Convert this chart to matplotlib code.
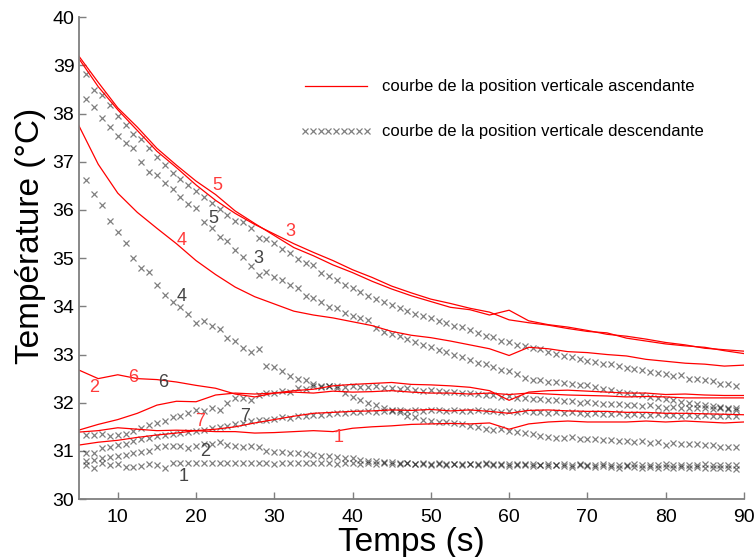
import numpy as np
import matplotlib
matplotlib.use('Agg')
import matplotlib.pyplot as plt

plt.rcParams['font.family'] = ['Liberation Sans', 'DejaVu Sans']

# ascending position (red lines), sampled every 2.5 s
t_red = np.arange(5, 90.1, 2.5)
asc = {
    '5': [39.2, 38.65, 38.12, 37.72, 37.28, 36.93, 36.6, 36.32, 35.98, 35.72, 35.47, 35.22,
          35.05, 34.86, 34.7, 34.52, 34.36, 34.22, 34.1, 33.98, 33.93, 33.82, 33.92, 33.7,
          33.62, 33.57, 33.5, 33.42, 33.38, 33.32, 33.25, 33.2, 33.13, 33.1, 33.07],
    '3': [39.15, 38.56, 38.08, 37.65, 37.22, 36.88, 36.52, 36.2, 35.93, 35.7, 35.5, 35.3,
          35.12, 34.95, 34.76, 34.6, 34.42, 34.28, 34.15, 34.06, 33.96, 33.88, 33.72, 33.66,
          33.61, 33.54, 33.48, 33.45, 33.34, 33.28, 33.22, 33.18, 33.15, 33.08, 33.02],
    '4': [37.76, 36.95, 36.35, 35.95, 35.62, 35.3, 34.95, 34.66, 34.4, 34.2, 34.05, 33.9,
          33.82, 33.76, 33.68, 33.6, 33.48, 33.4, 33.35, 33.28, 33.2, 33.12, 32.98, 33.15,
          33.12, 33.06, 33.04, 33.0, 32.97, 32.9, 32.86, 32.82, 32.8, 32.76, 32.78],
    '2': [32.68, 32.5, 32.58, 32.5, 32.48, 32.43, 32.36, 32.3, 32.18, 32.12, 32.2, 32.25,
          32.28, 32.35, 32.38, 32.4, 32.42, 32.38, 32.37, 32.35, 32.32, 32.25, 32.05, 32.22,
          32.25, 32.26, 32.24, 32.22, 32.2, 32.2, 32.17, 32.18, 32.16, 32.15, 32.15],
    '6': [31.43, 31.55, 31.65, 31.78, 31.95, 32.03, 32.02, 32.16, 32.2, 32.18, 32.2, 32.22,
          32.2, 32.24, 32.22, 32.23, 32.25, 32.22, 32.2, 32.2, 32.18, 32.2, 32.17, 32.2,
          32.18, 32.16, 32.15, 32.14, 32.12, 32.13, 32.12, 32.1, 32.1, 32.1, 32.1],
    '7': [31.12, 31.18, 31.22, 31.28, 31.33, 31.37, 31.42, 31.45, 31.5, 31.58, 31.65, 31.72,
          31.78, 31.8, 31.82, 31.83, 31.85, 31.84, 31.86, 31.83, 31.85, 31.82, 31.78, 31.84,
          31.85, 31.83, 31.82, 31.82, 31.8, 31.8, 31.78, 31.78, 31.77, 31.76, 31.75],
    '1': [31.39, 31.42, 31.48, 31.45, 31.42, 31.43, 31.42, 31.4, 31.4, 31.37, 31.38, 31.4,
          31.42, 31.4, 31.47, 31.5, 31.52, 31.55, 31.56, 31.57, 31.56, 31.58, 31.45, 31.56,
          31.6, 31.62, 31.6, 31.6, 31.6, 31.62, 31.6, 31.62, 31.6, 31.58, 31.6],
}

# descending position (x markers), one reading per second from 6 to 89 s
t_desc = np.arange(6, 90)
desc = {
    '3': [38.82, 38.5, 38.38, 38.17, 37.95, 37.76, 37.57, 37.47, 37.28, 37.1,
          36.93, 36.76, 36.64, 36.51, 36.39, 36.27, 36.14, 36.02, 35.89, 35.77,
          35.75, 35.62, 35.41, 35.39, 35.31, 35.2, 35.1, 34.98, 34.9, 34.85,
          34.7, 34.62, 34.55, 34.45, 34.38, 34.3, 34.22, 34.15, 34.08, 34.02,
          33.97, 33.9, 33.85, 33.8, 33.75, 33.7, 33.65, 33.6, 33.57, 33.5,
          33.44, 33.38, 33.36, 33.28, 33.25, 33.2, 33.17, 33.14, 33.12, 33.06,
          33.02, 32.97, 32.95, 32.9, 32.87, 32.84, 32.8, 32.8, 32.77, 32.72,
          32.7, 32.67, 32.64, 32.62, 32.6, 32.56, 32.57, 32.5, 32.5, 32.47,
          32.45, 32.38, 32.38, 32.35],
    '5': [38.3, 38.13, 37.9, 37.72, 37.53, 37.38, 37.28, 36.99, 36.78, 36.72,
          36.55, 36.43, 36.26, 36.12, 36.04, 35.75, 35.62, 35.44, 35.36, 35.17,
          35.02, 34.83, 34.65, 34.71, 34.61, 34.55, 34.44, 34.38, 34.21, 34.17,
          34.09, 33.98, 33.96, 33.86, 33.8, 33.76, 33.71, 33.55, 33.47, 33.42,
          33.38, 33.33, 33.26, 33.2, 33.16, 33.1, 33.05, 33.0, 32.95, 32.88,
          32.82, 32.8, 32.74, 32.68, 32.65, 32.6, 32.52, 32.47, 32.47, 32.44,
          32.43, 32.4, 32.38, 32.36, 32.36, 32.33, 32.28, 32.26, 32.22, 32.2,
          32.18, 32.15, 32.12, 32.1, 32.07, 32.05, 32.02, 32.0, 31.97, 31.95,
          31.93, 31.92, 31.9, 31.88],
    '4': [36.62, 36.33, 36.1, 35.77, 35.54, 35.31, 35.0, 34.79, 34.71, 34.44,
          34.23, 34.09, 33.98, 33.84, 33.65, 33.7, 33.59, 33.52, 33.34, 33.28,
          33.13, 33.05, 33.12, 32.76, 32.74, 32.66, 32.55, 32.5, 32.47, 32.38,
          32.35, 32.35, 32.3, 32.2, 32.12, 32.05, 32.0, 31.95, 31.9, 31.85,
          31.8, 31.72, 31.7, 31.65, 31.62, 31.6, 31.6, 31.57, 31.55, 31.52,
          31.5, 31.45, 31.43, 31.45, 31.42, 31.4, 31.37, 31.35, 31.3, 31.28,
          31.27, 31.27, 31.28, 31.25, 31.24, 31.25, 31.22, 31.22, 31.2, 31.2,
          31.18, 31.2, 31.17, 31.18, 31.13, 31.17, 31.15, 31.14, 31.14, 31.12,
          31.12, 31.09, 31.08, 31.09],
    '6': [31.33, 31.33, 31.35, 31.3, 31.33, 31.36, 31.42, 31.47, 31.54, 31.58,
          31.62, 31.7, 31.72, 31.78, 31.85, 31.82, 31.89, 31.85, 32.0, 32.1,
          32.1, 32.05, 32.15, 32.2, 32.2, 32.25, 32.22, 32.3, 32.28, 32.35,
          32.33, 32.35, 32.34, 32.33, 32.35, 32.33, 32.32, 32.34, 32.3, 32.3,
          32.28, 32.3, 32.27, 32.25, 32.26, 32.24, 32.22, 32.22, 32.2, 32.2,
          32.18, 32.15, 32.17, 32.12, 32.13, 32.1, 32.1, 32.08, 32.07, 32.05,
          32.05, 32.03, 32.03, 32.0, 32.02, 32.0, 31.98, 31.97, 31.98, 31.95,
          31.95, 31.93, 31.95, 31.92, 31.9, 31.92, 31.9, 31.88, 31.9, 31.88,
          31.87, 31.88, 31.86, 31.85],
    '7': [30.95, 30.95, 31.05, 31.08, 31.12, 31.15, 31.2, 31.25, 31.27, 31.3,
          31.33, 31.35, 31.38, 31.4, 31.42, 31.44, 31.48, 31.5, 31.52, 31.55,
          31.57, 31.62, 31.65, 31.65, 31.67, 31.7, 31.68, 31.72, 31.72, 31.75,
          31.74, 31.77, 31.78, 31.78, 31.8, 31.8, 31.82, 31.8, 31.83, 31.82,
          31.84, 31.82, 31.85, 31.83, 31.85, 31.84, 31.82, 31.85, 31.83, 31.82,
          31.84, 31.82, 31.83, 31.8, 31.82, 31.8, 31.82, 31.8, 31.8, 31.79,
          31.8, 31.78, 31.8, 31.78, 31.77, 31.78, 31.77, 31.76, 31.78, 31.75,
          31.76, 31.75, 31.74, 31.76, 31.74, 31.75, 31.73, 31.74, 31.72, 31.74,
          31.72, 31.73, 31.72, 31.72],
    '2': [30.8, 30.82, 30.85, 30.88, 30.9, 30.92, 30.95, 30.97, 31.0, 31.08,
          31.1, 31.1, 31.1, 31.06, 31.1, 31.15, 31.15, 31.18, 31.12, 31.1,
          31.08, 31.1, 31.08, 31.0, 30.97, 30.98, 30.96, 30.95, 30.93, 30.92,
          30.9, 30.9, 30.88, 30.85, 30.85, 30.82, 30.8, 30.78, 30.77, 30.76,
          30.75, 30.74, 30.72, 30.74, 30.7, 30.72, 30.7, 30.73, 30.7, 30.72,
          30.7, 30.73, 30.7, 30.72, 30.68, 30.7, 30.72, 30.68, 30.7, 30.68,
          30.7, 30.68, 30.66, 30.7, 30.68, 30.66, 30.68, 30.66, 30.65, 30.68,
          30.66, 30.64, 30.67, 30.64, 30.66, 30.64, 30.67, 30.64, 30.66, 30.64,
          30.65, 30.64, 30.65, 30.63],
    '1': [30.7, 30.64, 30.74, 30.7, 30.72, 30.66, 30.67, 30.68, 30.72, 30.7,
          30.64, 30.75, 30.75, 30.75, 30.75, 30.75, 30.74, 30.75, 30.75, 30.74,
          30.75, 30.74, 30.75, 30.75, 30.73, 30.75, 30.74, 30.75, 30.74, 30.75,
          30.74, 30.75, 30.73, 30.74, 30.74, 30.73, 30.74, 30.72, 30.74, 30.73,
          30.72, 30.74, 30.72, 30.73, 30.72, 30.74, 30.72, 30.73, 30.72, 30.73,
          30.72, 30.74, 30.72, 30.71, 30.72, 30.73, 30.7, 30.72, 30.71, 30.72,
          30.71, 30.72, 30.7, 30.72, 30.71, 30.7, 30.72, 30.7, 30.71, 30.7,
          30.72, 30.7, 30.71, 30.7, 30.72, 30.7, 30.7, 30.71, 30.7, 30.72,
          30.7, 30.71, 30.7, 30.7],
}

# curve number labels (time, temperature)
asc_labels = {'5': (22.7, 36.5), '3': (32.0, 35.55), '4': (18.1, 35.37), '2': (7.0, 32.32),
              '6': (12.0, 32.53), '7': (20.5, 31.6), '1': (38.2, 31.27)}
desc_labels = {'5': (22.2, 35.83), '3': (28.0, 35.0), '4': (18.1, 34.21), '6': (15.8, 32.41),
               '7': (26.3, 31.72), '2': (21.2, 30.98), '1': (18.4, 30.46)}

fig = plt.figure(figsize=(7.56, 5.57), dpi=100)
ax = fig.add_axes([0.104, 0.104, 0.880, 0.865])

first = True
for k, v in desc.items():
    ax.plot(t_desc, v, ls='none', marker='x', ms=4.5, mew=0.9, color='k', alpha=0.5,
            label='courbe de la position verticale descendante' if first else None)
    first = False

first = True
for k, v in asc.items():
    ax.plot(t_red, v, color='red', lw=0.9,
            label='courbe de la position verticale ascendante' if first else None)
    first = False

for k, (x, y) in asc_labels.items():
    ax.text(x, y, k, color='#ff3b3b', fontsize=13, ha='center', va='center')
for k, (x, y) in desc_labels.items():
    ax.text(x, y, k, color='#444444', fontsize=13, ha='center', va='center')

h, l = ax.get_legend_handles_labels()
ax.legend(h[::-1], l[::-1], loc='upper left', bbox_to_anchor=(0.333, 0.871),
          frameon=False, fontsize=12, numpoints=9, handlelength=4.3,
          handletextpad=0.6, labelspacing=1.8, borderpad=0, borderaxespad=0)

ax.set_xlim(5, 90)
ax.set_ylim(30, 40)
ax.set_xticks(np.arange(10, 91, 10))
ax.set_yticks(np.arange(30, 41, 1))
for s in ['top', 'right']:
    ax.spines[s].set_visible(False)
for s in ['left', 'bottom']:
    ax.spines[s].set_color('#7f7f7f')
    ax.spines[s].set_linewidth(1.3)
ax.tick_params(axis='both', direction='in', length=5, width=1, color='#7f7f7f',
               labelsize=14)
ax.tick_params(axis='x', pad=7)
ax.tick_params(axis='y', pad=3)

ax.set_xlabel('Temps (s)', fontsize=24, va='center')
ax.xaxis.set_label_coords(0.5, -0.091)
ax.set_ylabel('Température (°C)', fontsize=24, va='center')
ax.yaxis.set_label_coords(-0.073, 0.546)

fig.savefig('out.png', dpi=100)
